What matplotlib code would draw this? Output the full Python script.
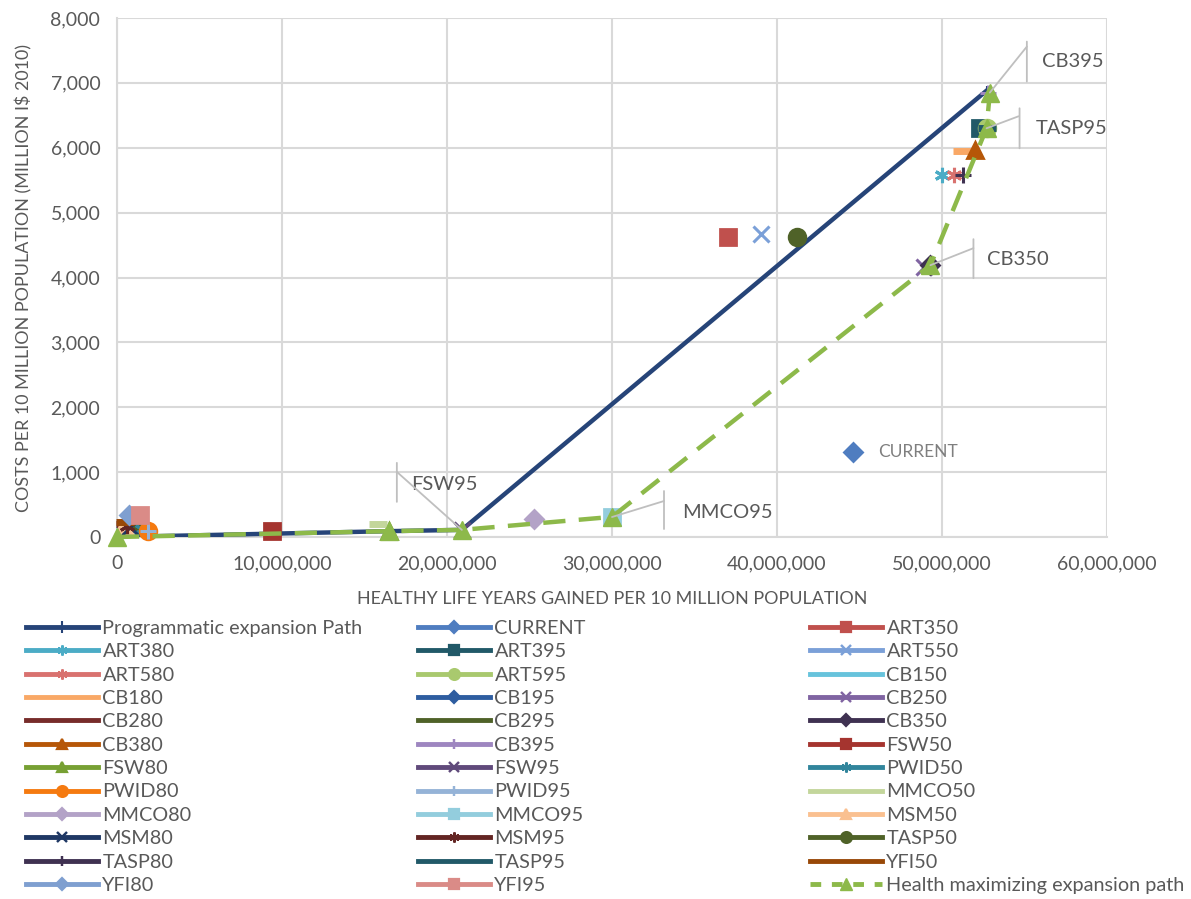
import matplotlib
matplotlib.use("Agg")
import matplotlib.pyplot as plt
from matplotlib.lines import Line2D
from matplotlib.ticker import FuncFormatter
from matplotlib.transforms import offset_copy

plt.rcParams['font.family'] = ['Lato', 'DejaVu Sans']

# expansion paths (healthy life years gained, cost in million I$)
prog_x = [0, 16.5e6, 20.9e6, 52.7e6]
prog_y = [0, 90, 110, 6880]
health_x = [0, 16.5e6, 20.9e6, 30.0e6, 49.3e6, 52.7e6, 52.9e6]
health_y = [0, 90, 110, 310, 4190, 6300, 6850]

# single interventions: name, x, y
names = ['CURRENT', 'ART350', 'ART380', 'ART395', 'ART550', 'ART580', 'ART595',
         'CB150', 'CB180', 'CB195', 'CB250', 'CB280', 'CB295', 'CB350', 'CB380', 'CB395',
         'FSW50', 'FSW80', 'FSW95', 'PWID50', 'PWID80', 'PWID95',
         'MMCO50', 'MMCO80', 'MMCO95', 'MSM50', 'MSM80', 'MSM95',
         'TASP50', 'TASP80', 'TASP95', 'YFI50', 'YFI80', 'YFI95']
hly = [44.6e6, 37.0e6, 50.0e6, 52.3e6, 39.0e6, 50.7e6, 52.7e6,
       0.5e6, 51.2e6, 0.6e6, 48.9e6, 0.5e6, 1.0e6, 49.3e6, 52.0e6, 52.8e6,
       9.4e6, 16.5e6, 20.9e6, 1.5e6, 1.9e6, 1.9e6,
       15.8e6, 25.3e6, 30.0e6, 0.4e6, 0.8e6, 0.6e6,
       41.2e6, 51.3e6, 52.7e6, 0.5e6, 0.7e6, 1.4e6]
cost = [1310, 4620, 5580, 6300, 4670, 5580, 6300,
        120, 5950, 160, 4160, 200, 150, 4190, 5960, 6850,
        100, 90, 110, 120, 100, 100,
        200, 277, 308, 180, 150, 170,
        4620, 5580, 6300, 230, 340, 340]

AST = (6, 2, 0)
colors = ['#4F7DC0', '#C0504D', '#4BACC6', '#215968', '#7BA0D8', '#D9726F', '#A9C96E',
          '#67C3DC', '#F9A866', '#2E5DA0', '#8064A2', '#772C2A', '#4F6228', '#3F3151', '#B65708', '#9E86C0',
          '#A5342F', '#77A033', '#604A7B', '#31859C', '#F57A10', '#95B3D7',
          '#C3D69B', '#B3A2C7', '#93CDDD', '#FAC090', '#1F3864', '#632523',
          '#4F6228', '#3F3151', '#215968', '#984807', '#7F9FD0', '#DA8B87']
markers = ['D', 's', AST, 's', 'x', AST, 'o',
           '_', '_', 'D', 'x', '_', '_', 'D', '^', '+',
           's', '^', 'x', AST, 'o', '+',
           '_', 'D', 's', '^', 'x', AST,
           'o', '+', '_', '_', 'D', 's']

fig = plt.figure(figsize=(11.91, 8.99), dpi=100)
ax = fig.add_axes([117 / 1191, 1 - 537 / 899, 990 / 1191, 519 / 899])

grid_c = '#D9D9D9'
text_c = '#595959'

ax.set_xlim(0, 60e6)
ax.set_ylim(0, 8000)
ax.set_xticks([i * 10e6 for i in range(7)])
ax.set_yticks(range(0, 8001, 1000))
ax.xaxis.set_major_formatter(FuncFormatter(lambda v, p: f'{v:,.0f}'))
ax.yaxis.set_major_formatter(FuncFormatter(lambda v, p: f'{v:,.0f}'))
ax.grid(True, color=grid_c, lw=1.5)
ax.set_axisbelow(True)
for s in ['top', 'right']:
    ax.spines[s].set_visible(False)
for s in ['left', 'bottom']:
    ax.spines[s].set_color(grid_c)
    ax.spines[s].set_linewidth(1.5)
ax.tick_params(length=0, labelsize=14, labelcolor=text_c)
ax.tick_params(axis='x', pad=13)
ax.tick_params(axis='y', pad=12)

ax.set_xlabel('HEALTHY LIFE YEARS GAINED PER 10 MILLION POPULATION', fontsize=12.9,
              color=text_c, labelpad=14)
ax.set_ylabel('COSTS PER 10 MILLION POPULATION (MILLION I$ 2010)', fontsize=12.9,
              color=text_c, labelpad=13)

handles = {}
ax.plot(prog_x, prog_y, color='#264478', lw=3.2, marker='|', ms=7, mew=1.5, zorder=3)
handles['Programmatic expansion Path'] = Line2D([], [], color='#264478', lw=3.5,
                                                marker='|', ms=8, mew=1.5)

for n, x, y, c, m in zip(names, hly, cost, colors, markers):
    ms = 12
    mew = 2
    if m in ('x', '+') or m == AST:
        ms = 11
        mew = 2.2
    if m == '_':
        ms = 13
        mew = 5
    if m == 'D':
        ms = 9
    ax.plot([x], [y], ls='none', marker=m, color=c, ms=ms, mew=mew, clip_on=False, zorder=4)
    handles[n] = Line2D([], [], color=c, lw=3.5, marker=m, ms=ms * 0.65,
                        mew=mew * 0.8 if m != '_' else 2)

ax.plot(health_x, health_y, color='#8DB94A', lw=3.2, dashes=(5, 3), marker='^',
        ms=13, clip_on=False, zorder=5)
handles['Health maximizing expansion path'] = Line2D([], [], color='#8DB94A', lw=3.5,
                                                     dashes=(2.2, 2.2), marker='^', ms=9)

# callout labels with leader and bracket
lab_c = '#595959'
lead_c = '#BFBFBF'


def callout(x, y, text, lead, bracket, tpos):
    ax.annotate('', xy=(x, y), xytext=lead, textcoords='offset pixels',
                arrowprops=dict(arrowstyle='-', color=lead_c, lw=1.3, shrinkA=0, shrinkB=0),
                zorder=6)
    t1 = offset_copy(ax.transData, fig=fig, x=bracket[0], y=bracket[1], units='dots')
    t2 = offset_copy(ax.transData, fig=fig, x=bracket[0], y=bracket[2], units='dots')
    ax.annotate('', xy=(x, y), xycoords=t1, xytext=(x, y), textcoords=t2,
                arrowprops=dict(arrowstyle='-', color=lead_c, lw=1.3, shrinkA=0, shrinkB=0),
                zorder=6)
    ax.annotate(text, xy=(x, y), xytext=tpos, textcoords='offset pixels',
                fontsize=14.5, color=lab_c, ha='left', va='center', annotation_clip=False)


callout(52.9e6, 6850, 'CB395', (37, 46), (37, 51, 11), (52, 31))
callout(52.7e6, 6300, 'TASP95', (32, 12), (33, 20, -20), (49, 0))
callout(49.3e6, 4190, 'CB350', (43, 17), (43, 26, -13), (57, 6))
callout(20.9e6, 110, 'FSW95', (-65, 58), (-65, 67, 28), (-51, 45))
callout(30.0e6, 308, 'MMCO95', (52, 16), (52, 26, -12), (70, 5))
ax.annotate('CURRENT', xy=(44.6e6, 1310), xytext=(25, 0), textcoords='offset pixels',
            fontsize=12.5, color='#7F7F7F', ha='left', va='center')

# legend laid out row by row in three columns
order = ['Programmatic expansion Path'] + names + ['Health maximizing expansion path']
rows = [order[i:i + 3] for i in range(0, len(order), 3)]
for col, xpix in enumerate([26, 418, 810]):
    labs = [r[col] for r in rows]
    fig.legend([handles[l] for l in labs], labs, loc='upper left',
               bbox_to_anchor=(xpix / 1191, 1 - 620 / 899), frameon=False,
               fontsize=14.3, labelcolor=text_c, handlelength=3.6, handletextpad=0.25,
               labelspacing=0.32, borderpad=0, borderaxespad=0)

fig.savefig('out.png', dpi=100)
